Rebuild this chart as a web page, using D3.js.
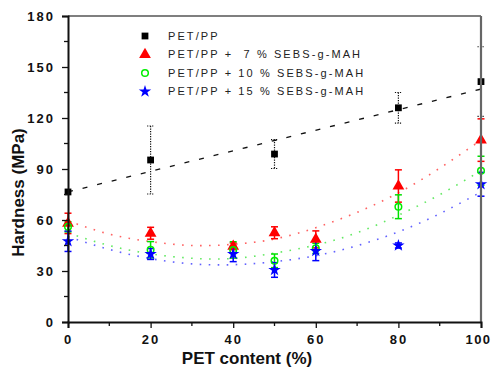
<!DOCTYPE html>
<html>
<head>
<meta charset="utf-8">
<script src="https://cdn.jsdelivr.net/npm/d3@7"></script>
<style>
  html, body { margin: 0; padding: 0; background: #fff; }
  svg { display: block; font-family: "Liberation Sans", Arial, sans-serif; }
</style>
</head>
<body>
<svg id="chart" width="491" height="370"></svg>
<script>
// Hardness of PET/PP blends vs PET content, with and without SEBS-g-MAH
const petContent = [0, 20, 40, 50, 60, 80, 100];
const petppContent = [0, 20, 50, 80, 100];

const petppHardness = [76.5, 95.3, 98.8, 126, 141.4];
const petppError    = [0, 20, 8.5, 9, 20.5];

const sebs7Hardness  = [58, 52.2, 44.5, 52.5, 48.6, 80, 107];
const sebs7Error     = [6, 3.5, 2, 3.5, 5, 9.5, 12.5];
const sebs10Hardness = [56, 42.5, 42.4, 36, 43.3, 67.8, 89];
const sebs10Error    = [3, 4.8, 4.8, 4, 3, 7, 8.5];
const sebs15Hardness = [47.5, 40, 40, 30.6, 41.8, 45, 81];
const sebs15Error    = [6, 3.2, 4.5, 4.3, 5.7, 1.5, 7];

// trend curves
const fitContent   = [0, 10, 20, 30, 40, 50, 60, 70, 80, 90, 100];
const sebs7Fit     = [59.5, 51.7, 47.3, 45, 45.7, 48.8, 55.5, 64.5, 76, 90.5, 107];
const sebs10Fit    = [52.3, 45, 40.1, 37.5, 37.4, 40.5, 45.3, 52.5, 62.8, 74.9, 89];
const sebs15Fit    = [50.2, 42.7, 37.3, 34.2, 33.7, 35.5, 39, 44.9, 53, 63.7, 76.5];
const petppFitContent = [0, 100];
const petppFit        = [76.5, 137];

const xTicks = [0, 20, 40, 60, 80, 100];
const yTicks = [0, 30, 60, 90, 120, 150, 180];
const xMinor = [10, 30, 50, 70, 90];
const yMinor = [15, 45, 75, 105, 135, 165];

const legendLabels = ["PET/PP", "PET/PP +  7 % SEBS-g-MAH", "PET/PP + 10 % SEBS-g-MAH", "PET/PP + 15 % SEBS-g-MAH"];

const svg = d3.select("#chart");
const L = 68, R = 481, T = 16, B = 322;

const x = d3.scaleLinear().domain([0, 100]).range([L, R]);
const y = d3.scaleLinear().domain([0, 180]).range([B, T]);

// trend lines
const lineGen = d3.line().x(d => x(d[0])).y(d => y(d[1])).curve(d3.curveNatural);
const zip = (a, b) => a.map((v, i) => [v, b[i]]);

svg.append("path")
  .attr("d", lineGen(zip(petppFitContent, petppFit)))
  .attr("fill", "none").attr("stroke", "#111").attr("stroke-width", 1.3)
  .attr("stroke-dasharray", "5,10");

const fits = [
  [sebs7Fit, "#ff2020"],
  [sebs10Fit, "#20e020"],
  [sebs15Fit, "#2020ff"]
];
fits.forEach(([vals, col]) => {
  svg.append("path")
    .attr("d", lineGen(zip(fitContent, vals)))
    .attr("fill", "none").attr("stroke", col).attr("stroke-width", 1.6)
    .attr("stroke-opacity", 0.7)
    .attr("stroke-dasharray", "1.6,7.4");
});

// error bars
function errorBars(xs, vals, errs, col, dotted) {
  const g = svg.append("g").attr("stroke", col).attr("stroke-width", dotted ? 1.2 : 1.5)
    .attr("fill", "none");
  if (dotted) g.attr("stroke-dasharray", "1.2,1.3");
  xs.forEach((xv, i) => {
    const e = errs[i];
    if (!e) return;
    const cx = x(xv), y1 = y(vals[i] + e), y0 = y(vals[i] - e);
    g.append("line").attr("x1", cx).attr("x2", cx).attr("y1", y1).attr("y2", y0);
    g.append("line").attr("x1", cx - 3.5).attr("x2", cx + 3.5).attr("y1", y1).attr("y2", y1);
    g.append("line").attr("x1", cx - 3.5).attr("x2", cx + 3.5).attr("y1", y0).attr("y2", y0);
  });
}
errorBars(petppContent, petppHardness, petppError, "#111", true);
errorBars(petContent, sebs7Hardness, sebs7Error, "#ff0000", false);
errorBars(petContent, sebs10Hardness, sebs10Error, "#00e000", false);
errorBars(petContent, sebs15Hardness, sebs15Error, "#0000ff", false);

// markers
const shapes = [
  { sym: d3.symbolSquare, size: 46, fill: "#000", stroke: "none" },
  { sym: d3.symbolTriangle, size: 60, fill: "#ff0000", stroke: "none" },
  { sym: d3.symbolCircle, size: 34, fill: "none", stroke: "#00ee00" },
  { sym: d3.symbolStar, size: 48, fill: "#0000ff", stroke: "none" }
];
function markers(xs, vals, s) {
  svg.append("g").selectAll("path").data(xs).join("path")
    .attr("d", d3.symbol().type(s.sym).size(s.size))
    .attr("transform", (d, i) => `translate(${x(d)},${y(vals[i])})`)
    .attr("fill", s.fill).attr("stroke", s.stroke).attr("stroke-width", 1.5);
}
markers(petppContent, petppHardness, shapes[0]);
markers(petContent, sebs7Hardness, shapes[1]);
markers(petContent, sebs10Hardness, shapes[2]);
markers(petContent, sebs15Hardness, shapes[3]);

// frame
svg.append("line").attr("x1", L).attr("x2", R).attr("y1", T).attr("y2", T)
  .attr("stroke", "#555").attr("stroke-width", 1.5);
svg.append("line").attr("x1", R).attr("x2", R).attr("y1", T).attr("y2", B)
  .attr("stroke", "#666").attr("stroke-width", 2.2);

// axes
const xAxis = svg.append("g").attr("transform", `translate(0,${B})`)
  .call(d3.axisBottom(x).tickValues(xTicks).tickSize(6).tickPadding(7).tickFormat(d3.format("d")));
const yAxis = svg.append("g").attr("transform", `translate(${L},0)`)
  .call(d3.axisLeft(y).tickValues(yTicks).tickSize(6).tickPadding(7).tickFormat(d3.format("d")));
[xAxis, yAxis].forEach(a => {
  a.select(".domain").attr("stroke", "#111").attr("stroke-width", 2);
  a.selectAll(".tick line").attr("stroke", "#111").attr("stroke-width", 1.3);
  a.selectAll(".tick text").attr("fill", "#111")
    .style("font-size", "13px").style("font-weight", "bold").style("letter-spacing", "2px");
});
yAxis.selectAll(".tick text").attr("dy", "0.35em");
// keep the last x label inside the canvas
xAxis.selectAll(".tick text").filter(d => d === 100)
  .style("letter-spacing", "1.4px").attr("dx", -3);

svg.append("g").selectAll("line").data(xMinor).join("line")
  .attr("x1", d => x(d)).attr("x2", d => x(d)).attr("y1", B).attr("y2", B + 4)
  .attr("stroke", "#111").attr("stroke-width", 1.3);
svg.append("g").selectAll("line").data(yMinor).join("line")
  .attr("x1", L - 4).attr("x2", L).attr("y1", d => y(d)).attr("y2", d => y(d))
  .attr("stroke", "#111").attr("stroke-width", 1.3);

// axis titles
svg.append("text").attr("x", 247).attr("y", 364).attr("text-anchor", "middle")
  .style("font-size", "17px").style("font-weight", "bold").attr("fill", "#111")
  .text("PET content (%)");
svg.append("text").attr("transform", `translate(24,${(125 + 260) / 2}) rotate(-90)`)
  .attr("text-anchor", "middle")
  .style("font-size", "17px").style("font-weight", "bold").attr("fill", "#111")
  .text("Hardness (MPa)");

// legend
const legend = svg.append("g");
legendLabels.forEach((lab, i) => {
  const ly = 36 + i * 18.5;
  const s = shapes[i];
  legend.append("path")
    .attr("d", d3.symbol().type(s.sym).size(s.size))
    .attr("transform", `translate(145,${ly})`)
    .attr("fill", s.fill).attr("stroke", s.stroke).attr("stroke-width", 1.5);
  legend.append("text").attr("x", 168).attr("y", ly).attr("dy", "0.35em")
    .style("font-size", "11px").style("letter-spacing", "2.1px").style("white-space", "pre")
    .attr("fill", "#222").text(lab);
});
</script>
</body>
</html>
